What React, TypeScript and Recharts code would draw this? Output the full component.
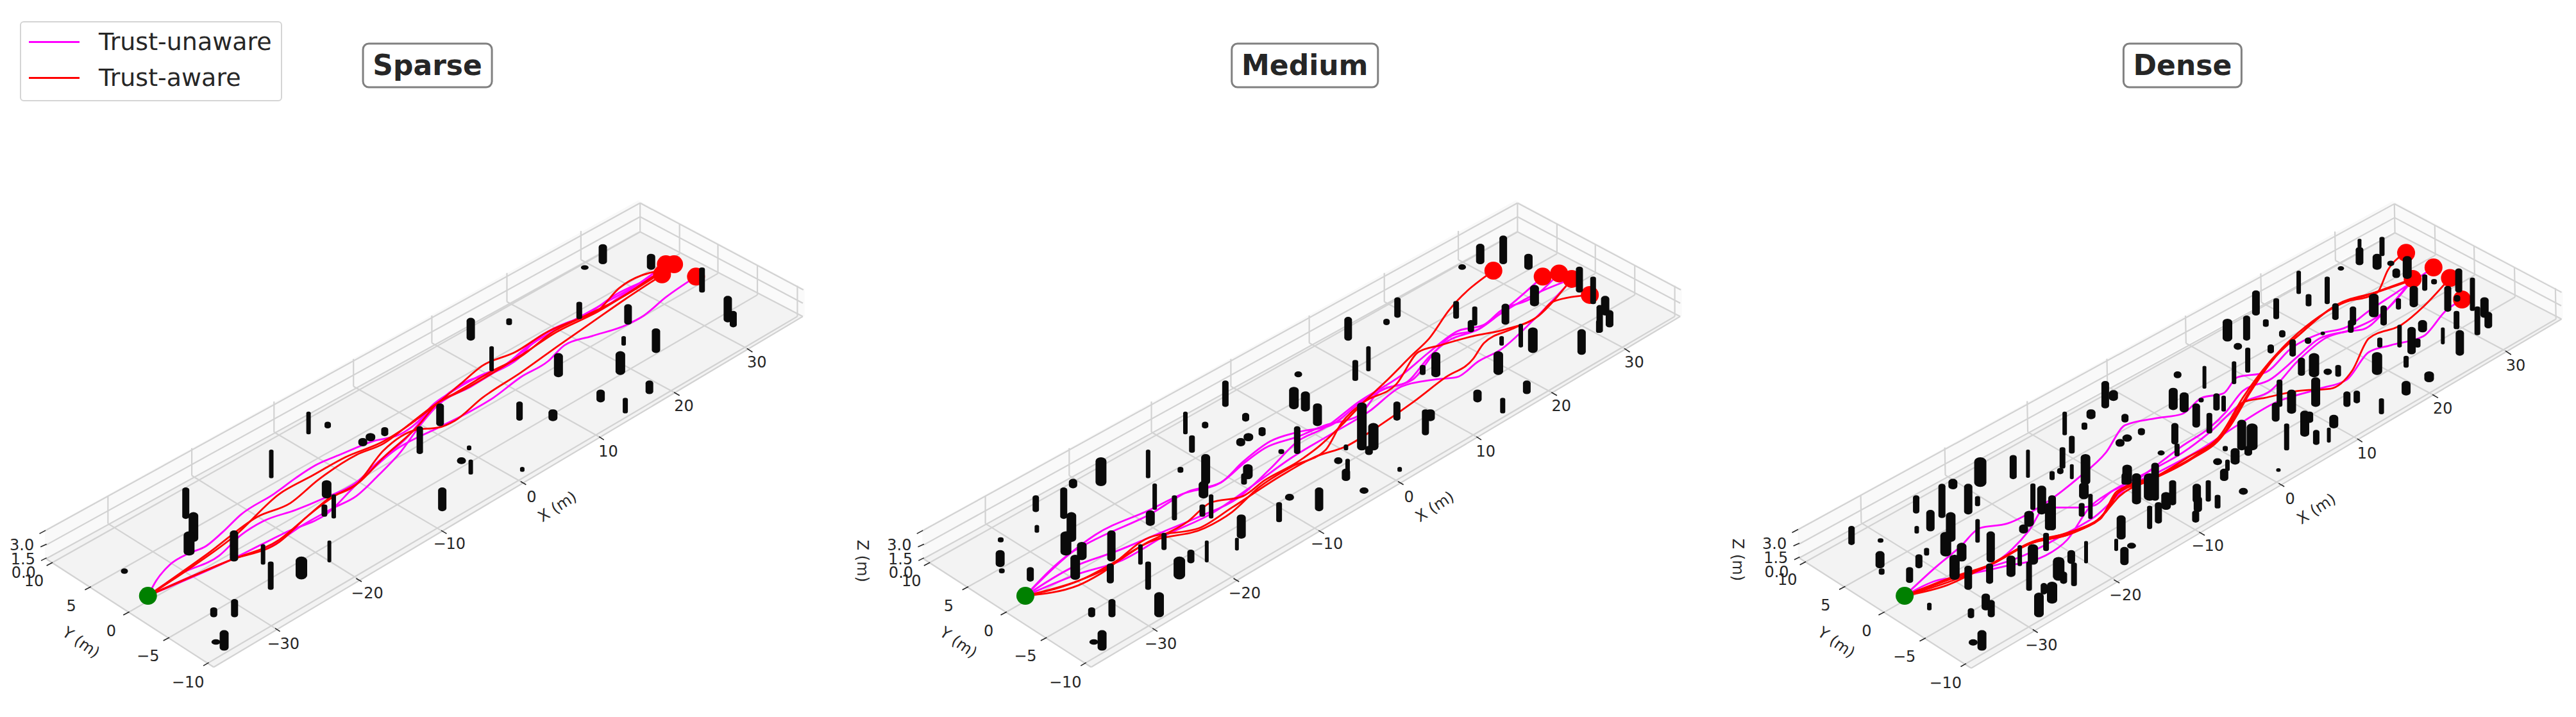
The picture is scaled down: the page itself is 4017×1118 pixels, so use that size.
import { ComposedChart, Line, Area, Scatter, XAxis, YAxis } from "recharts";

type Pt = [number, number];
type Obs = [number, number, number, number]; // x, top, bottom, thickness
type Tilt = [number, number, number]; // offset + a*x + b*y, the three panels are not quite the same view

const SPAN = 1568;
const PANEL_W = 1340;
const PANEL_H = 1118;

const floorBand = [
  { x: 84, band: [1222, 1222] },
  { x: 390, band: [1019, 1459] },
  { x: 1165, band: [505, 906] },
  { x: 1465, band: [692, 692] },
];
const leftWallBand = [
  { x: 82, band: [1158, 1222] },
  { x: 1165, band: [438, 505] },
];
const rightWallBand = [
  { x: 1165, band: [438, 505] },
  { x: 1468, band: [632, 692] },
];

const gridSegments: [number, number, number, number][] = [
  // x = const on the floor
  [197, 1145, 502, 1374], [350, 1040, 652, 1265], [500, 945, 805, 1160], [645, 845, 950, 1053],
  [788, 750, 1093, 955], [925, 660, 1230, 858], [1060, 568, 1363, 762],
  // y = const on the floor
  [96, 1230, 1168, 507], [166, 1283, 1240, 555], [236, 1338, 1310, 598], [309, 1394, 1382, 645], [381, 1449, 1455, 692],
  // floor edges
  [84, 1222, 390, 1459], [390, 1459, 1465, 692],
  // back wall, z levels
  [84, 1222, 1168, 507], [84, 1192, 1168, 474], [82, 1161, 1168, 444],
  // side wall, z levels
  [1168, 507, 1465, 692], [1168, 474, 1465, 663], [1168, 444, 1466, 634],
  // uprights on the back wall
  [197, 1085, 197, 1145], [350, 980, 350, 1040], [500, 878, 500, 945], [645, 785, 645, 845],
  [788, 690, 788, 750], [925, 597, 925, 660], [1060, 505, 1060, 568], [1168, 444, 1168, 507],
  // uprights on the side wall
  [1240, 490, 1240, 555], [1310, 535, 1310, 598], [1382, 580, 1382, 645], [1455, 625, 1455, 692],
];

const tickSegments: [number, number, number, number][] = [
  [502, 1374, 511, 1381], [650, 1265, 660, 1272], [805, 1160, 815, 1167], [950, 1053, 960, 1060],
  [1093, 955, 1102, 962], [1230, 858, 1240, 865], [1363, 762, 1373, 770],
  [96, 1230, 85, 1237], [166, 1283, 155, 1290], [236, 1338, 225, 1345], [309, 1394, 298, 1401], [381, 1449, 371, 1456],
  [83, 1160, 72, 1167], [85, 1190, 74, 1196], [85, 1220, 75, 1226],
];

const axisTexts = [
  { x: 517, y: 1408, label: "\u221230" }, { x: 670, y: 1298, label: "\u221220" }, { x: 820, y: 1190, label: "\u221210" },
  { x: 970, y: 1087, label: "0" }, { x: 1110, y: 987, label: "10" }, { x: 1248, y: 888, label: "20" }, { x: 1381, y: 793, label: "30" },
  { x: 62, y: 1270, label: "10" }, { x: 130, y: 1325, label: "5" }, { x: 203, y: 1380, label: "0" },
  { x: 270, y: 1435, label: "\u22125" }, { x: 343, y: 1492, label: "\u221210" },
  { x: 40, y: 1192, label: "3.0" }, { x: 42, y: 1223, label: "1.5" }, { x: 43, y: 1253, label: "0.0" },
  { x: 1017, y: 1108, label: "X (m)", angle: -33 },
  { x: 148, y: 1405, label: "Y (m)", angle: 35 },
  { x: -27, y: 1227, label: "Z (m)", angle: 90 },
];

const sparseUnaware: Pt[][] = [
  [[270, 1303], [285, 1270], [310, 1235], [345, 1210], [375, 1195], [405, 1165], [440, 1125], [500, 1080], [540, 1045], [575, 1018], [625, 992], [680, 965], [730, 950], [760, 925], [790, 885], [820, 860], [870, 825], [925, 795], [960, 760], [1000, 725], [1040, 703], [1085, 685], [1130, 650], [1215, 578]],
  [[270, 1303], [330, 1255], [400, 1215], [440, 1170], [480, 1140], [540, 1115], [590, 1090], [650, 1055], [690, 1010], [740, 960], [790, 890], [850, 835], [900, 815], [945, 785], [980, 740], [1020, 715], [1060, 695], [1130, 640], [1208, 600]],
  [[270, 1303], [350, 1260], [420, 1225], [500, 1190], [550, 1150], [610, 1110], [650, 1085], [690, 1040], [730, 990], [770, 925], [800, 885], [860, 845], [920, 800], [980, 745], [1040, 705], [1130, 645], [1230, 578]],
  [[270, 1303], [420, 1225], [520, 1165], [600, 1120], [650, 1060], [720, 985], [800, 935], [850, 905], [900, 870], [950, 825], [1000, 790], [1030, 755], [1080, 735], [1140, 712], [1175, 690], [1215, 650], [1270, 605]],
];
const sparseAware: Pt[][] = [
  [[270, 1303], [350, 1240], [430, 1170], [510, 1080], [570, 1040], [630, 1000], [700, 965], [740, 935], [800, 880], [840, 840], [880, 800], [940, 770], [1000, 725], [1060, 695], [1090, 680], [1130, 630], [1210, 590]],
  [[270, 1303], [380, 1210], [470, 1130], [530, 1100], [580, 1050], [650, 995], [700, 970], [750, 925], [800, 880], [850, 850], [900, 815], [960, 770], [1010, 730], [1090, 682], [1210, 590]],
  [[270, 1303], [420, 1225], [510, 1185], [560, 1130], [610, 1085], [655, 1055], [700, 1000], [760, 935], [800, 880], [830, 860], [900, 810], [950, 780], [1010, 725], [1060, 695], [1120, 660], [1215, 590]],
  [[270, 1303], [420, 1225], [510, 1180], [560, 1130], [600, 1090], [650, 1060], [700, 985], [760, 940], [800, 935], [830, 920], [880, 870], [950, 815], [1020, 755], [1080, 705], [1140, 655], [1210, 600]],
];
const sparseGoals: Pt[] = [[1215, 578], [1230, 578], [1208, 600], [1270, 605]];
const sparseStart: Pt[] = [[270, 1303]];

const mediumUnaware: Pt[][] = [
  [[303, 1303], [380, 1215], [430, 1170], [530, 1115], [590, 1080], [660, 1055], [700, 1010], [750, 965], [800, 945], [860, 930], [915, 880], [960, 850], [1010, 830], [1050, 770], [1080, 735], [1130, 720], [1165, 690], [1230, 645], [1300, 610]],
  [[303, 1303], [385, 1210], [430, 1180], [530, 1125], [600, 1075], [660, 1055], [705, 1010], [740, 980], [800, 955], [850, 930], [910, 910], [950, 855], [1000, 835], [1040, 780], [1075, 745], [1130, 720], [1190, 665], [1247, 605]],
  [[303, 1303], [390, 1240], [470, 1205], [550, 1165], [620, 1130], [690, 1090], [750, 1025], [800, 965], [850, 935], [910, 880], [990, 820], [1040, 770], [1090, 725], [1140, 710], [1170, 680], [1230, 650], [1277, 598]],
  [[303, 1303], [400, 1255], [480, 1225], [560, 1170], [640, 1125], [720, 1060], [790, 1000], [860, 950], [930, 900], [990, 845], [1050, 830], [1090, 825], [1130, 790], [1170, 765], [1230, 700], [1290, 625]],
];
const mediumAware: Pt[][] = [
  [[303, 1303], [400, 1270], [440, 1250], [520, 1190], [600, 1140], [640, 1100], [700, 1085], [740, 1050], [800, 1010], [840, 975], [880, 930], [920, 880], [960, 835], [1010, 775], [1040, 740], [1075, 680], [1157, 592]],
  [[303, 1303], [410, 1265], [450, 1240], [530, 1185], [630, 1155], [680, 1120], [730, 1065], [790, 1020], [850, 985], [880, 925], [920, 880], [980, 840], [1020, 770], [1060, 755], [1120, 735], [1180, 720], [1240, 690], [1265, 660], [1333, 645]],
  [[303, 1303], [400, 1280], [440, 1255], [530, 1175], [620, 1155], [680, 1110], [770, 1040], [830, 1000], [890, 975], [950, 930], [1010, 880], [1070, 825], [1120, 785], [1140, 750], [1190, 720], [1240, 690], [1290, 625]],
];
const mediumGoals: Pt[] = [[1157, 592], [1247, 605], [1277, 598], [1300, 610], [1333, 645]];
const mediumStart: Pt[] = [[303, 1303]];

const denseUnaware: Pt[][] = [
  [[343, 1303], [400, 1240], [445, 1195], [480, 1155], [530, 1145], [600, 1100], [660, 1045], [710, 990], [745, 930], [800, 915], [850, 905], [885, 870], [925, 860], [950, 825], [1000, 815], [1050, 760], [1100, 730], [1150, 715], [1190, 680], [1240, 640], [1308, 585]],
  [[343, 1303], [400, 1270], [450, 1260], [540, 1200], [570, 1160], [600, 1110], [660, 1110], [690, 1105], [720, 1075], [760, 1055], [800, 1020], [850, 975], [900, 935], [930, 900], [960, 855], [1010, 830], [1060, 780], [1100, 740], [1150, 725], [1180, 720], [1220, 680], [1270, 610]],
  [[343, 1303], [430, 1265], [520, 1240], [600, 1215], [640, 1180], [680, 1110], [720, 1075], [790, 1030], [850, 990], [900, 945], [960, 880], [1010, 855], [1060, 790], [1110, 740], [1160, 720], [1220, 680], [1270, 612]],
  [[343, 1303], [440, 1260], [560, 1215], [640, 1165], [690, 1130], [750, 1065], [810, 1030], [880, 985], [950, 930], [1020, 880], [1100, 850], [1150, 830], [1190, 770], [1230, 755], [1290, 735], [1330, 680], [1360, 655]],
];
const denseAware: Pt[][] = [
  [[343, 1303], [420, 1280], [490, 1240], [570, 1190], [640, 1165], [700, 1135], [730, 1080], [790, 1050], [860, 1000], [920, 950], [960, 870], [1010, 790], [1050, 740], [1130, 670], [1200, 640], [1270, 610]],
  [[343, 1303], [430, 1265], [500, 1235], [570, 1190], [650, 1165], [705, 1125], [730, 1075], [800, 1045], [870, 1000], [930, 940], [970, 860], [1015, 785], [1060, 735], [1130, 668], [1205, 640], [1225, 590], [1258, 553]],
  [[343, 1303], [425, 1272], [495, 1238], [570, 1188], [645, 1168], [702, 1130], [735, 1085], [795, 1048], [865, 1005], [925, 950], [960, 880], [1000, 870], [1060, 855], [1120, 850], [1160, 810], [1190, 740], [1250, 710], [1290, 670], [1338, 608]],
  [[343, 1303], [435, 1260], [505, 1232], [575, 1185], [655, 1160], [710, 1120], [738, 1070], [805, 1040], [875, 995], [935, 935], [975, 855], [1020, 780], [1065, 730], [1132, 666], [1207, 638], [1270, 612]],
];
const denseGoals: Pt[] = [[1258, 553], [1270, 610], [1308, 585], [1338, 608], [1360, 655]];
const denseStart: Pt[] = [[343, 1303]];

const sparseObstacles: Obs[] = [
  [1100, 534, 578, 13], [1067, 580, 590, 12], [1188, 555, 590, 13], [1281, 585, 640, 9], [1328, 647, 705, 13], [1338, 680, 716, 11],
  [859, 695, 745, 13], [929, 696, 711, 9], [1057, 660, 698, 9], [1146, 665, 710, 12], [1197, 718, 772, 13], [1138, 735, 756, 7],
  [897, 757, 812, 7], [1019, 772, 825, 14], [1132, 768, 820, 15], [803, 882, 932, 12], [948, 878, 920, 10], [1009, 895, 921, 14],
  [1096, 852, 880, 13], [1141, 870, 904, 8], [1185, 832, 862, 12], [563, 900, 950, 7], [598, 922, 937, 10], [662, 958, 976, 14],
  [676, 947, 965, 15], [702, 934, 954, 11], [766, 932, 993, 10], [495, 983, 1046, 7], [856, 974, 985, 7], [842, 1000, 1015, 14],
  [859, 1005, 1038, 7], [953, 1021, 1032, 7], [596, 1050, 1090, 15], [807, 1066, 1118, 13], [592, 1103, 1130, 9], [609, 1081, 1134, 7],
  [339, 1066, 1135, 11], [353, 1120, 1185, 15], [345, 1162, 1215, 17], [427, 1160, 1228, 13], [480, 1190, 1235, 7], [494, 1228, 1290, 9],
  [550, 1217, 1267, 18], [601, 1182, 1230, 6], [227, 1243, 1255, 11], [428, 1310, 1350, 11], [390, 1328, 1350, 11], [394, 1398, 1410, 14],
  [409, 1378, 1423, 14],
];

const mediumObstacles: Obs[] = [
  [1175, 515, 578, 12], [1133, 533, 578, 13], [1100, 578, 590, 12], [1221, 555, 590, 13], [1314, 583, 640, 11], [1339, 605, 665, 9],
  [1232, 623, 670, 14], [982, 650, 695, 10], [962, 697, 711, 10], [892, 693, 745, 12], [1089, 658, 697, 9], [1123, 670, 712, 8],
  [1116, 700, 727, 10], [1179, 664, 710, 12], [1207, 708, 760, 7], [1229, 716, 772, 15], [1172, 735, 756, 7], [1318, 720, 776, 13],
  [1361, 647, 690, 13], [1351, 667, 728, 10], [1369, 678, 716, 12], [1349, 700, 728, 8], [929, 757, 812, 7], [905, 787, 833, 9],
  [1052, 770, 825, 14], [1028, 798, 820, 9], [1166, 768, 820, 15], [801, 812, 825, 12], [793, 846, 895, 15], [814, 856, 900, 14],
  [836, 882, 932, 14], [668, 832, 890, 10], [1128, 852, 880, 13], [1218, 832, 862, 12], [1174, 870, 904, 8], [705, 903, 922, 11],
  [595, 900, 950, 7], [631, 922, 937, 10], [981, 878, 920, 11], [1042, 895, 921, 14], [1033, 895, 952, 11], [735, 934, 954, 11],
  [696, 958, 976, 14], [710, 947, 965, 15], [607, 952, 990, 9], [799, 932, 993, 10], [917, 880, 985, 15], [938, 925, 985, 16],
  [930, 975, 995, 12], [770, 982, 993, 9], [888, 972, 985, 7], [527, 983, 1046, 7], [874, 1000, 1015, 13], [891, 1003, 1036, 7],
  [888, 1025, 1052, 13], [986, 1021, 1032, 7], [586, 1021, 1034, 9], [632, 993, 1060, 14], [709, 1015, 1048, 15], [702, 1035, 1060, 9],
  [628, 1052, 1090, 15], [441, 1000, 1063, 17], [390, 1047, 1068, 13], [322, 1083, 1120, 10], [373, 1066, 1135, 11], [539, 1057, 1115, 7],
  [575, 1083, 1138, 8], [626, 1103, 1130, 9], [642, 1081, 1134, 7], [531, 1116, 1150, 14], [785, 1080, 1095, 14], [921, 1066, 1080, 14],
  [839, 1066, 1118, 13], [766, 1098, 1142, 9], [697, 1125, 1178, 14], [689, 1176, 1204, 6], [387, 1120, 1185, 15], [324, 1148, 1165, 7],
  [377, 1162, 1215, 17], [258, 1175, 1186, 9], [460, 1160, 1228, 13], [406, 1185, 1225, 15], [513, 1190, 1235, 7], [556, 1165, 1203, 8],
  [634, 1182, 1230, 6], [605, 1202, 1232, 11], [527, 1228, 1290, 9], [584, 1217, 1267, 18], [257, 1203, 1240, 14], [260, 1243, 1254, 9],
  [312, 1240, 1272, 11], [394, 1213, 1268, 15], [458, 1232, 1276, 11], [461, 1310, 1350, 11], [424, 1328, 1350, 11], [547, 1295, 1350, 15],
  [428, 1398, 1410, 14], [443, 1378, 1423, 14],
];

const denseObstacles: Obs[] = [
  [1173, 522, 542, 6], [1173, 540, 580, 12], [1214, 518, 560, 8], [1205, 555, 590, 14], [1260, 560, 610, 14], [1230, 570, 582, 11],
  [1240, 587, 608, 12], [1139, 582, 592, 10], [1309, 610, 622, 9], [1292, 600, 636, 8], [1354, 587, 640, 11], [1379, 607, 680, 8],
  [1062, 592, 643, 7], [1114, 605, 665, 8], [1272, 625, 672, 13], [984, 635, 690, 12], [1021, 652, 698, 9], [1080, 643, 670, 9],
  [1129, 663, 700, 10], [1161, 670, 712, 10], [1157, 700, 728, 9], [1199, 642, 694, 15], [1217, 668, 712, 10], [1244, 652, 677, 8],
  [1334, 625, 682, 11], [1401, 650, 695, 13], [1388, 670, 733, 9], [1408, 682, 718, 12], [1350, 680, 720, 9], [1351, 645, 660, 10],
  [932, 697, 747, 15], [967, 690, 745, 11], [1002, 698, 715, 9], [1032, 722, 738, 10], [1106, 725, 733, 7], [1288, 700, 727, 14],
  [1246, 710, 760, 7], [1325, 716, 753, 6], [1356, 722, 778, 13], [1268, 715, 775, 13], [1279, 740, 760, 9], [1210, 738, 760, 8],
  [1258, 778, 804, 8], [951, 750, 765, 13], [1011, 753, 773, 10], [1079, 738, 752, 10], [1051, 742, 780, 10], [969, 760, 815, 8],
  [1090, 772, 825, 16], [1067, 782, 822, 11], [1205, 770, 820, 16], [1115, 806, 820, 13], [1134, 798, 824, 9], [944, 790, 840, 7],
  [890, 800, 850, 6], [1300, 812, 836, 15], [841, 812, 827, 12], [1258, 833, 865, 14], [1093, 825, 890, 14], [1027, 830, 890, 9],
  [1049, 852, 905, 14], [912, 860, 898, 10], [925, 865, 900, 7], [833, 848, 897, 14], [853, 858, 902, 14], [884, 870, 880, 8],
  [875, 882, 935, 12], [899, 903, 948, 9], [1020, 880, 922, 12], [1150, 856, 890, 11], [1168, 854, 882, 10], [1213, 871, 906, 8],
  [1073, 898, 955, 14], [1082, 900, 925, 11], [1126, 907, 937, 14], [709, 833, 893, 12], [724, 853, 877, 14], [1040, 926, 985, 8],
  [1094, 940, 973, 10], [1117, 935, 968, 6], [745, 905, 924, 11], [635, 900, 952, 7], [683, 895, 917, 14], [671, 924, 940, 9],
  [775, 936, 952, 11], [736, 960, 977, 14], [749, 950, 966, 15], [648, 953, 992, 9], [836, 925, 972, 11], [840, 970, 998, 8],
  [958, 918, 985, 14], [977, 926, 985, 17], [970, 975, 997, 12], [811, 985, 996, 11], [928, 975, 987, 8], [631, 978, 1025, 9],
  [627, 1023, 1037, 10], [612, 1030, 1050, 8], [541, 995, 1048, 11], [481, 1000, 1065, 19], [673, 993, 1060, 15], [648, 1015, 1048, 6],
  [568, 983, 1045, 6], [914, 1002, 1017, 14], [946, 980, 1016, 14], [932, 1005, 1030, 7], [926, 1025, 1052, 13], [1025, 1024, 1032, 7],
  [749, 1016, 1060, 15], [744, 1035, 1060, 9], [800, 1012, 1095, 12], [790, 1035, 1095, 18], [766, 1035, 1103, 14], [670, 1055, 1092, 15],
  [682, 1080, 1135, 7], [666, 1100, 1130, 9], [577, 1057, 1115, 8], [593, 1062, 1125, 14], [612, 1083, 1160, 12], [606, 1100, 1160, 12],
  [431, 1047, 1070, 14], [364, 1083, 1123, 10], [411, 1058, 1133, 11], [459, 1058, 1125, 13], [476, 1085, 1107, 8], [390, 1115, 1162, 13],
  [365, 1150, 1167, 7], [427, 1120, 1185, 15], [418, 1163, 1217, 17], [299, 1177, 1187, 9], [476, 1135, 1187, 7], [570, 1117, 1152, 15],
  [560, 1147, 1167, 14], [601, 1165, 1205, 9], [246, 1150, 1192, 10], [832, 1050, 1105, 11], [876, 1058, 1100, 13], [878, 1085, 1120, 13],
  [897, 1050, 1097, 8], [914, 1082, 1112, 9], [874, 1116, 1143, 11], [961, 1067, 1082, 14], [820, 1076, 1115, 15], [806, 1098, 1145, 11],
  [790, 1106, 1157, 8], [738, 1127, 1180, 14], [729, 1178, 1205, 6], [757, 1187, 1200, 14], [744, 1196, 1236, 13], [674, 1183, 1232, 6],
  [647, 1203, 1233, 12], [624, 1218, 1270, 18], [633, 1250, 1277, 11], [652, 1230, 1282, 9], [447, 1187, 1228, 15], [369, 1212, 1243, 11],
  [383, 1198, 1215, 8], [298, 1205, 1243, 14], [301, 1243, 1257, 9], [352, 1240, 1275, 11], [434, 1213, 1268, 16], [459, 1237, 1290, 12],
  [500, 1162, 1230, 13], [553, 1192, 1238, 7], [577, 1190, 1235, 16], [570, 1228, 1292, 9], [537, 1215, 1262, 14], [498, 1232, 1277, 11],
  [491, 1298, 1335, 13], [501, 1312, 1350, 11], [464, 1330, 1352, 10], [388, 1318, 1335, 7], [612, 1272, 1320, 16], [588, 1296, 1350, 15],
  [597, 1275, 1300, 10], [468, 1398, 1412, 14], [484, 1378, 1423, 14],
];

const FONT = "'DejaVu Sans', sans-serif";
const INK = "#262626";

const toRows = (pts: Pt[]) => pts.map(([x, y]) => ({ x, y }));

const AxisText = (p: any) => (
  <text
    x={p.cx} y={p.cy} textAnchor="middle" dominantBaseline="central"
    fontFamily={FONT} fontSize={24} fill={INK}
    transform={p.payload.angle ? `rotate(${p.payload.angle} ${p.cx} ${p.cy})` : undefined}
  >
    {p.payload.label}
  </text>
);

const TitleBox = (p: any) => (
  <g>
    <rect
      x={p.cx - p.payload.w / 2} y={p.cy - 34} width={p.payload.w} height={68} rx={9}
      fill="#fff" stroke="#808080" strokeWidth={3}
    />
    <text
      x={p.cx} y={p.cy} textAnchor="middle" dominantBaseline="central"
      fontFamily={FONT} fontWeight={700} fontSize={44} fill={INK}
    >
      {p.payload.label}
    </text>
  </g>
);

// cylinder seen from above: flat ellipse ends instead of round caps
const Cylinder = (p: any) => {
  const { w, span } = p.payload;
  const h = Math.max((span * PANEL_H) / SPAN, w * 0.6);
  return (
    <rect x={p.cx - w / 2} y={p.cy - h / 2} width={w} height={h} rx={w / 2} ry={Math.min(w * 0.36, h / 2)} fill="#0a0a0a" />
  );
};

const marker = (fill: string) => (p: any) => <circle cx={p.cx} cy={p.cy} r={14} fill={fill} />;

interface PanelProps {
  left: number;
  tiltX: Tilt;
  tiltY: Tilt;
  title: { x: number; y: number; label: string; w: number };
  unaware: Pt[][];
  aware: Pt[][];
  obstacles: Obs[];
  goals: Pt[];
  start: Pt[];
}

function Panel({ left, tiltX, tiltY, title, unaware, aware, obstacles, goals, start }: PanelProps) {
  const moveX = (x: number, y: number) => x + tiltX[0] + tiltX[1] * x + tiltX[2] * y;
  const moveY = (x: number, y: number) => y + tiltY[0] + tiltY[1] * x + tiltY[2] * y;
  const shiftBand = (rows: { x: number; band: number[] }[]) =>
    rows.map((r) => {
      const mid = (r.band[0] + r.band[1]) / 2;
      return { x: moveX(r.x, mid), band: r.band.map((v) => moveY(r.x, v)) };
    });
  const segment = ([x1, y1, x2, y2]: number[], key: string, stroke: string, width: number) => (
    <Line
      key={key} dataKey="y"
      data={[{ x: moveX(x1, y1), y: moveY(x1, y1) }, { x: moveX(x2, y2), y: moveY(x2, y2) }]}
      stroke={stroke} strokeWidth={width} dot={false} legendType="none" isAnimationActive={false}
    />
  );
  const texts = axisTexts
    .map((t) => ({ ...t, x: moveX(t.x, t.y), y: moveY(t.x, t.y) }))
    .filter((t) => t.x >= 0);
  const cylinders = obstacles.map(([x, top, bottom, w]) => ({ x, y: (top + bottom) / 2, span: bottom - top, w }));
  return (
    <div style={{ position: "absolute", left, top: 0, width: PANEL_W, height: PANEL_H }}>
      <ComposedChart width={PANEL_W} height={PANEL_H} margin={{ top: 0, right: 0, bottom: 0, left: 0 }}>
        <XAxis type="number" dataKey="x" domain={[0, SPAN]} hide />
        <YAxis type="number" dataKey="y" domain={[0, SPAN]} reversed hide />

        <Area data={shiftBand(leftWallBand)} dataKey="band" type="linear" stroke="none" fill="#f9f9f9" fillOpacity={1} dot={false} isAnimationActive={false} />
        <Area data={shiftBand(rightWallBand)} dataKey="band" type="linear" stroke="none" fill="#fafafa" fillOpacity={1} dot={false} isAnimationActive={false} />
        <Area data={shiftBand(floorBand)} dataKey="band" type="linear" stroke="none" fill="#f3f3f3" fillOpacity={1} dot={false} isAnimationActive={false} />

        {gridSegments.map((s, i) => segment(s, `g${i}`, "#d2d2d2", 2.2))}
        {tickSegments.map((s, i) => segment(s, `t${i}`, INK, 1.6))}

        {unaware.map((path, i) => (
          <Line key={`u${i}`} data={toRows(path)} dataKey="y" type="monotoneX" stroke="#ff00ff" strokeWidth={2.8} dot={false} isAnimationActive={false} />
        ))}
        {aware.map((path, i) => (
          <Line key={`a${i}`} data={toRows(path)} dataKey="y" type="monotoneX" stroke="#ff0000" strokeWidth={2.8} dot={false} isAnimationActive={false} />
        ))}

        <Scatter data={toRows(goals)} shape={marker("#ff0000")} isAnimationActive={false} />
        <Scatter data={toRows(start)} shape={marker("#008000")} isAnimationActive={false} />
        <Scatter data={cylinders} shape={Cylinder} isAnimationActive={false} />

        <Scatter data={texts} shape={AxisText} isAnimationActive={false} />
        <Scatter data={[title]} shape={TitleBox} isAnimationActive={false} />
      </ComposedChart>
    </div>
  );
}

function LegendBox() {
  const rows = [
    { label: "Trust-unaware", color: "#ff00ff", top: 65 },
    { label: "Trust-aware", color: "#ff0000", top: 121 },
  ];
  return (
    <div style={{
      position: "absolute", left: 31, top: 33, width: 409, height: 125, boxSizing: "border-box",
      border: "2.5px solid #d4d4d4", borderRadius: 6, background: "#fff", zIndex: 5,
    }}>
      {rows.map((r) => (
        <div key={r.label}>
          <div style={{ position: "absolute", left: 12, top: r.top - 35 - 1.5, width: 79, height: 3, background: r.color }} />
          <div style={{
            position: "absolute", left: 121, top: r.top - 35 - 25, height: 50, lineHeight: "50px",
            fontFamily: FONT, fontSize: 38, color: INK, whiteSpace: "nowrap",
          }}>
            {r.label}
          </div>
        </div>
      ))}
    </div>
  );
}

export default function App() {
  return (
    <div style={{ position: "absolute", left: 0, top: 0, width: 4017, height: 1118, overflow: "hidden", background: "#fff" }}>
      <style>{`svg { overflow: visible; }`}</style>
      <Panel left={0} tiltX={[0, 0, 0]} tiltY={[0, 0, 0]}
        title={{ x: 780, y: 143, label: "Sparse", w: 201 }}
        unaware={sparseUnaware} aware={sparseAware} obstacles={sparseObstacles} goals={sparseGoals} start={sparseStart} />
      <Panel left={1340} tiltX={[33, 0, 0]} tiltY={[0, 0, 0]}
        title={{ x: 813, y: 143, label: "Medium", w: 228 }}
        unaware={mediumUnaware} aware={mediumAware} obstacles={mediumObstacles} goals={mediumGoals} start={mediumStart} />
      <Panel left={2677} tiltX={[45.6, 0.0135, 0.0162]} tiltY={[-10.45, 0.008, 0.0065]}
        title={{ x: 850, y: 143, label: "Dense", w: 184 }}
        unaware={denseUnaware} aware={denseAware} obstacles={denseObstacles} goals={denseGoals} start={denseStart} />
      <LegendBox />
    </div>
  );
}
